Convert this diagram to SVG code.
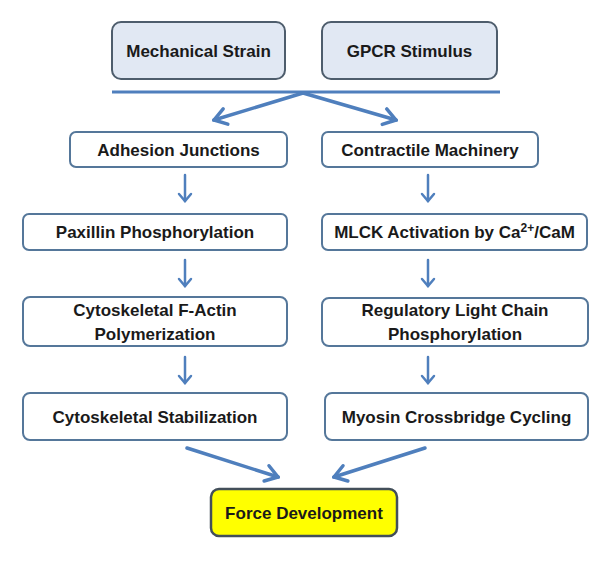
<svg xmlns="http://www.w3.org/2000/svg" width="604" height="561" viewBox="0 0 604 561">
<defs>
<style>
text{font-family:"Liberation Sans",Arial,sans-serif;font-weight:bold;font-size:17px;fill:#1a1a1a;text-anchor:middle}
.box{fill:#ffffff;stroke:#55779a;stroke-width:2}
.top{fill:#e1e8f3;stroke:#4e5d6c;stroke-width:2}
.force{fill:#ffff00;stroke:#434f5a;stroke-width:2.5}
.arr{stroke:#4f7fbd;fill:none;stroke-linecap:round}
.thin{stroke-width:2.5;marker-end:url(#hs)}
.thick{stroke-width:3.5;marker-end:url(#hb)}
</style>
<marker id="hs" markerUnits="userSpaceOnUse" viewBox="-12 -10 14 20" markerWidth="14" markerHeight="20" refX="0" refY="0" orient="auto">
<path d="M-7,-6 L0,0 L-7,6" fill="none" stroke="#4f7fbd" stroke-width="2.5" stroke-linecap="round" stroke-linejoin="miter"/>
</marker>
<marker id="hb" markerUnits="userSpaceOnUse" viewBox="-16 -12 18 24" markerWidth="18" markerHeight="24" refX="0" refY="0" orient="auto">
<path d="M-12,-8 L0,0 L-12,8" fill="none" stroke="#4f7fbd" stroke-width="3.5" stroke-linecap="round" stroke-linejoin="miter"/>
</marker>
</defs>
<rect width="604" height="561" fill="#ffffff"/>
<g id="connectors">
<line x1="112" y1="92" x2="500" y2="92" stroke="#4f7fbd" stroke-width="3"/>
<path class="arr thick" d="M303,93 L214,120"/>
<path class="arr thick" d="M303,93 L396,120"/>
<path class="arr thin" d="M185,175 L185,201"/>
<path class="arr thin" d="M428,175 L428,201"/>
<path class="arr thin" d="M185,260 L185,286"/>
<path class="arr thin" d="M428,260 L428,286"/>
<path class="arr thin" d="M185,357 L185,383"/>
<path class="arr thin" d="M428,357 L428,383"/>
<path class="arr thick" d="M187,448 L278,477"/>
<path class="arr thick" d="M425,448 L334,477"/>
</g>
<g id="mechanical-strain">
<rect class="top" x="112" y="22" width="173" height="57" rx="9"/>
<text x="198.5" y="56.5">Mechanical Strain</text>
</g>
<g id="gpcr-stimulus">
<rect class="top" x="322" y="22" width="175" height="57" rx="9"/>
<text x="409.5" y="56.5">GPCR Stimulus</text>
</g>
<g id="adhesion-junctions">
<rect class="box" x="70" y="132" width="217" height="35" rx="6"/>
<text x="178.5" y="156">Adhesion Junctions</text>
</g>
<g id="contractile-machinery">
<rect class="box" x="322" y="132" width="216" height="35" rx="6"/>
<text x="430" y="156">Contractile Machinery</text>
</g>
<g id="paxillin">
<rect class="box" x="23" y="214" width="264" height="36" rx="6"/>
<text x="155" y="238">Paxillin Phosphorylation</text>
</g>
<g id="mlck">
<rect class="box" x="322" y="214" width="265" height="36" rx="6"/>
<text x="454.5" y="238">MLCK Activation by Ca<tspan font-size="12" dy="-6">2+</tspan><tspan dy="6">/CaM</tspan></text>
</g>
<g id="f-actin">
<rect class="box" x="23" y="297" width="264" height="49" rx="7"/>
<text x="155" y="316">Cytoskeletal F-Actin</text>
<text x="155" y="340">Polymerization</text>
</g>
<g id="rlc">
<rect class="box" x="322" y="298" width="266" height="48" rx="7"/>
<text x="455" y="316">Regulatory Light Chain</text>
<text x="455" y="340">Phosphorylation</text>
</g>
<g id="stabilization">
<rect class="box" x="23" y="393" width="264" height="47" rx="7"/>
<text x="155" y="423">Cytoskeletal Stabilization</text>
</g>
<g id="myosin">
<rect class="box" x="325" y="393" width="263" height="47" rx="7"/>
<text x="456.5" y="423">Myosin Crossbridge Cycling</text>
</g>
<g id="force-development">
<rect class="force" x="211" y="489" width="186" height="47" rx="8"/>
<text x="304" y="519">Force Development</text>
</g>
</svg>
